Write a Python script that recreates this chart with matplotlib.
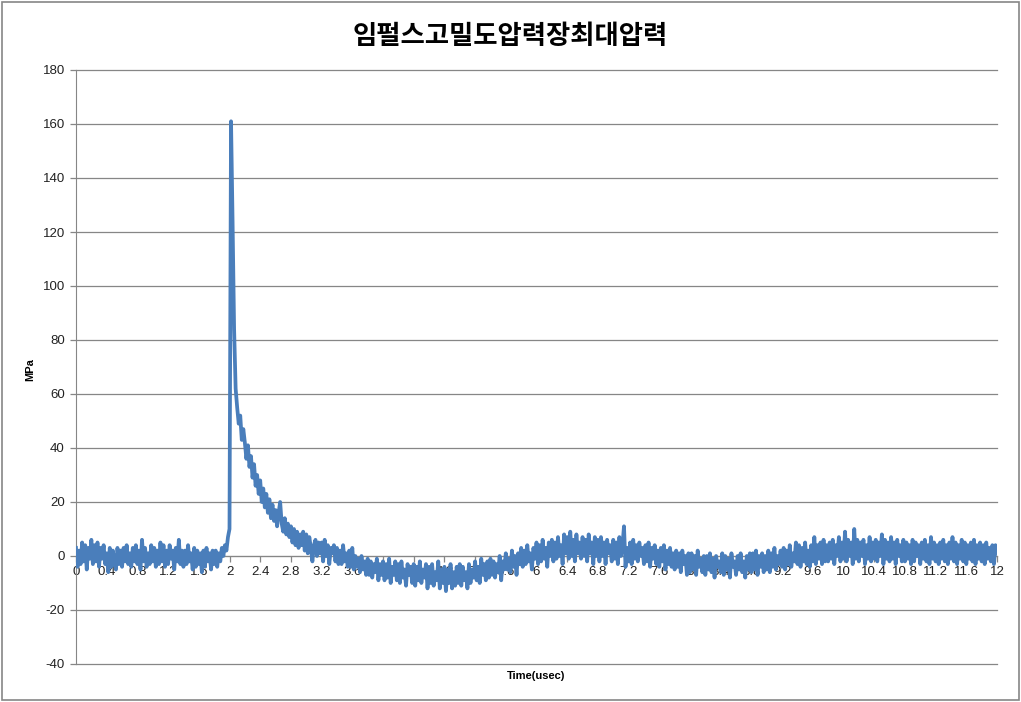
import matplotlib

matplotlib.use("Agg")
import matplotlib.pyplot as plt
import numpy as np
from matplotlib.patches import Rectangle

TITLE = "임펄스고밀도압력장최대압력"
X_LABEL = "Time(usec)"
Y_LABEL = "MPa"

# pressure (MPa) sampled every 0.02 usec, 10 samples per row (0.2 usec)
pressure = [
    3, -4, 2, -3, 5, -2, 4, -5, 3, -1,
    6, -3, 4, -2, 5, -4, 3, -1, 4, -3,
    1, -6, 3, -4, 2, -2, -5, 3, -3, 2,
    -4, 3, -2, 4, -3, 1, -4, 3, -2, 4,
    -3, 2, -5, 6, -2, 3, -4, 1, -3, 4,
    -2, 3, -4, 2, -3, 5, -2, 4, -4, 2,
    -3, 4, -1, 2, -5, 3, -2, 6, -3, 2,
    -4, 2, -3, 4, -2, 1, -5, 3, -4, 2,
    -3, 1, -6, 2, -4, 3, -2, 1, -5, 2,
    -3, 2, -4, 1, -2, 3, 0, 4, 2, 7,
    10, 161, 124, 84, 62, 55, 49, 52, 43, 47,
    42, 36, 41, 33, 37, 29, 34, 26, 30, 23,
    28, 20, 25, 18, 23, 16, 21, 14, 19, 13,
    17, 11, 16, 20, 12, 9, 14, 8, 12, 7,
    11, 5, 10, 4, 9, 3, 8, 4, 9, 2,
    8, 1, 7, 3, -2, 4, 6, 0, 5, 1,
    5, -2, 6, 0, 4, -3, 3, 1, 4, -2,
    3, -3, 2, -3, 4, -2, 1, -4, 2, -4,
    3, -5, 0, -4, -1, -6, 0, -5, -2, -7,
    -1, -7, -2, -8, -3, -6, -1, -9, -3, -7,
    -2, -9, -3, -8, -1, -10, -4, -7, -2, -9,
    -3, -10, -2, -8, -5, -11, -3, -7, -4, -10,
    -3, -11, -4, -9, -2, -10, -5, -8, -3, -12,
    -4, -10, -3, -11, -6, -9, -2, -12, -5, -10,
    -4, -13, -5, -10, -3, -12, -6, -11, -4, -10,
    -3, -11, -4, -9, -6, -12, -3, -10, -5, -8,
    -2, -9, -4, -10, -1, -7, -3, -9, -2, -8,
    -1, -7, -2, -8, -3, -6, 0, -9, -2, -5,
    1, -5, -1, -6, 2, -4, 0, -7, 1, -3,
    3, -4, 2, -3, 4, -2, 1, -5, 3, -1,
    5, -3, 4, -2, 6, -1, 3, -4, 5, 0,
    6, -2, 5, -1, 7, 0, 4, -3, 8, 1,
    7, -1, 9, 0, 6, -2, 8, 1, 5, -1,
    7, 0, 6, -2, 8, 1, 5, -3, 7, 0,
    6, -2, 7, 0, 5, -3, 6, 1, 4, -2,
    6, -1, 5, -3, 7, 0, 4, 11, -4, 3,
    -2, 5, -3, 6, -1, 4, -2, 5, 0, 3,
    -3, 4, -2, 5, -4, 3, -1, 4, -3, 2,
    -4, 3, -2, 4, -5, 2, -3, 3, -4, 1,
    -5, 2, -4, 1, -6, 2, -3, 0, -7, 1,
    -6, 1, -5, 0, -7, 2, -4, -1, -6, 0,
    -7, 0, -5, 1, -6, -1, -8, 0, -4, -2,
    -6, 1, -7, 0, -5, -1, -8, 1, -4, -2,
    -7, 0, -5, 1, -6, -2, -8, 0, -5, 1,
    -6, 1, -5, 2, -7, 0, -4, 1, -6, 0,
    -5, 2, -6, 1, -4, 3, -5, 0, -3, 2,
    -4, 3, -5, 2, -3, 4, -4, 1, -2, 5,
    -3, 4, -4, 3, -2, 5, -3, 2, -4, 4,
    -2, 7, -3, 4, -1, 5, -3, 6, -2, 4,
    -2, 5, -1, 6, -3, 4, 0, 7, -2, 5,
    -1, 9, -2, 6, 0, 5, -3, 10, -1, 6,
    -2, 5, 0, 6, -3, 4, -1, 7, -2, 5,
    -1, 6, -2, 5, 0, 8, -3, 6, -1, 5,
    -2, 7, -1, 5, -3, 6, 0, 4, -2, 6,
    -2, 5, -1, 4, -3, 6, -2, 5, 0, 4,
    -3, 5, -1, 6, -2, 4, -3, 7, -1, 5,
    -2, 4, -3, 5, -1, 6, -2, 4, -3, 5,
    -1, 7, -2, 5, -3, 4, -1, 6, -2, 5,
    -3, 4, -1, 5, -2, 6, -3, 4, -1, 5,
    -2, 4, -3, 5, -1, 3, -2, 4, -3, 4,
    1,
]
time_usec = np.linspace(0, 12, len(pressure))

x_ticks = np.round(np.arange(0, 12.01, 0.4), 1)
x_tick_labels = [f"{v:g}" for v in x_ticks]
y_ticks = list(range(-40, 181, 20))

GRID = "#868686"
LINE = "#4A7EBB"

plt.rcParams["font.family"] = ["Liberation Sans", "DejaVu Sans"]
plt.rcParams["axes.unicode_minus"] = False

fig = plt.figure(figsize=(10.21, 7.02), dpi=100)
ax = fig.add_axes([76 / 1021, 1 - 664 / 702, (997 - 76) / 1021, (664 - 70) / 702])

ax.plot(time_usec, pressure, color=LINE, linewidth=2.7, zorder=3)

ax.set_xlim(0, 12)
ax.set_ylim(-40, 180)
ax.set_yticks(y_ticks)
ax.set_xticks(x_ticks)
ax.set_xticklabels(x_tick_labels)
ax.yaxis.grid(True, color=GRID, linewidth=0.9)
ax.set_axisbelow(True)
for gl in ax.get_ygridlines():
    gl.set_clip_on(False)

for side in ("top", "right"):
    ax.spines[side].set_visible(False)
ax.spines["left"].set_color(GRID)
ax.spines["bottom"].set_color(GRID)
ax.spines["bottom"].set_position(("data", 0))
ax.tick_params(axis="both", colors=GRID, labelcolor="#222222", labelsize=9.5, length=4, width=0.9)
ax.tick_params(axis="x", pad=3)
ax.tick_params(axis="y", pad=4)

fig.text(0.5, 1 - 36 / 702, TITLE, ha="center", va="center", fontsize=19,
         fontweight="bold", family=["Noto Sans CJK KR", "DejaVu Sans"])
fig.text(30 / 1021, 1 - 370 / 702, Y_LABEL, ha="center", va="center", rotation=90,
         fontsize=8, fontweight="bold")
fig.text(536 / 1021, 1 - 676 / 702, X_LABEL, ha="center", va="center",
         fontsize=8, fontweight="bold")

fig.patches.append(Rectangle((2 / 1021, 2 / 702), 1 - 4 / 1021, 1 - 4 / 702,
                             transform=fig.transFigure, fill=False,
                             edgecolor=GRID, linewidth=1.2))

fig.savefig("out.png", dpi=100)
